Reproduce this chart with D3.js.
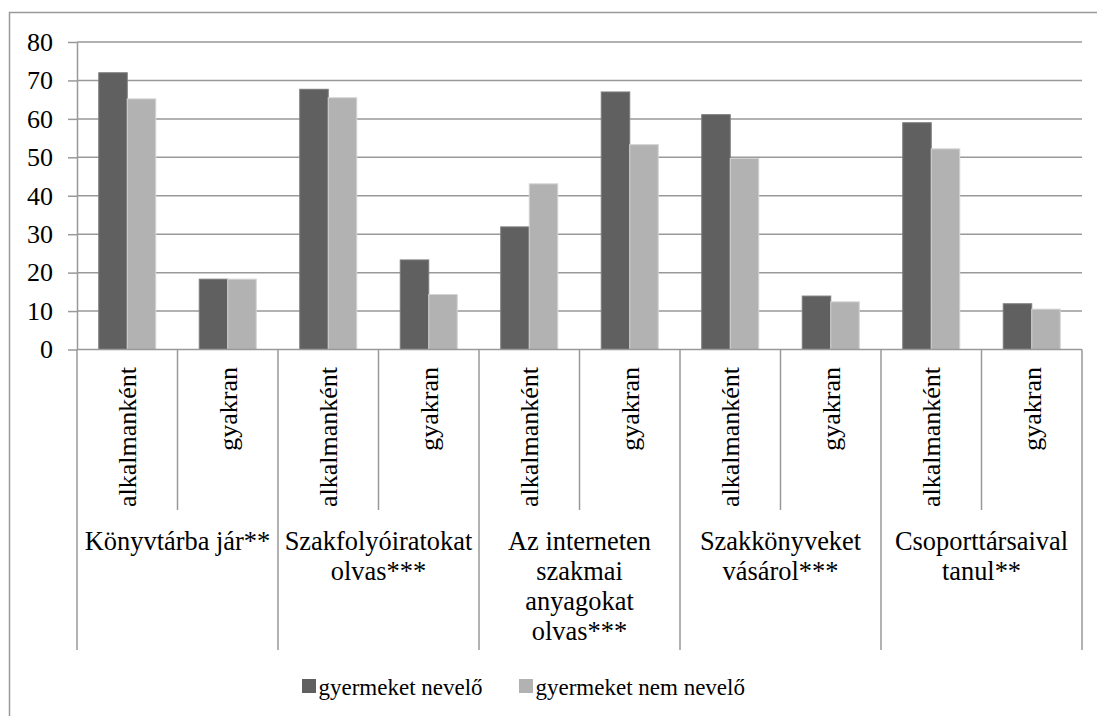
<!DOCTYPE html>
<html>
<head>
<meta charset="utf-8">
<script src="https://cdn.jsdelivr.net/npm/d3@7"></script>
</head>
<body style="margin:0">
<svg id="chart" width="1097" height="716" style="display:block"></svg>
<script>
// Activity groups, each split into "occasionally" / "often"
const groups = [
  ["Könyvtárba jár**"],
  ["Szakfolyóiratokat", "olvas***"],
  ["Az interneten", "szakmai", "anyagokat", "olvas***"],
  ["Szakkönyveket", "vásárol***"],
  ["Csoporttársaival", "tanul**"]
];
const frequencies = ["alkalmanként", "gyakran"];
const seriesNames = ["gyermeket nevelő", "gyermeket nem nevelő"];

// Percentages, one value per (group, frequency) pair in order
const parenting    = [72.0, 18.3, 67.7, 23.3, 31.9, 67.0, 61.1, 13.9, 59.0, 11.9];
const nonParenting = [65.2, 18.3, 65.5, 14.3, 43.1, 53.3, 49.7, 12.4, 52.2, 10.5];

const yTicks = [0, 10, 20, 30, 40, 50, 60, 70, 80];

const colors = ["#606060", "#b2b2b2"];
const strokes = ["#7c7c7c", "#d4d4d4"];
const FONT = '"Liberation Serif", monospace';

const svg = d3.select("#chart");
const plot = { left: 77, right: 1082, top: 42, bottom: 349.5 };

// Rows: one per sub-category slot
const rows = [];
groups.forEach((g, gi) => {
  frequencies.forEach((f, fi) => {
    const i = gi * frequencies.length + fi;
    rows.push({ idx: i, group: gi, freq: f, values: [parenting[i], nonParenting[i]] });
  });
});

const x = d3.scaleBand()
  .domain(rows.map(d => d.idx))
  .range([plot.left, plot.right])
  .paddingInner(0).paddingOuter(0);

const xInner = d3.scaleBand()
  .domain(d3.range(seriesNames.length))
  .range([0, x.bandwidth()])
  .paddingOuter(0.763)
  .paddingInner(0);

const y = d3.scaleLinear().domain([0, 80]).range([plot.bottom, plot.top]);

// Outer frame (top and left edges)
svg.append("path")
  .attr("d", `M9.5,716 V12.5 H1097`)
  .attr("fill", "none")
  .attr("stroke", "#9a9a9a")
  .attr("stroke-width", 1.5);

// Horizontal gridlines
svg.append("g")
  .selectAll("line")
  .data(yTicks.filter(t => t > 0))
  .join("line")
  .attr("x1", plot.left).attr("x2", plot.right)
  .attr("y1", d => y(d)).attr("y2", d => y(d))
  .attr("stroke", "#999")
  .attr("stroke-width", 1.5);

// Y axis
const yAxis = d3.axisLeft(y).tickValues(yTicks).tickSize(9).tickSizeOuter(0).tickPadding(15).tickFormat(d3.format("d"));
const yg = svg.append("g").attr("transform", `translate(${plot.left},0)`).call(yAxis);
yg.attr("font-family", null).attr("font-size", null);
yg.select(".domain").attr("stroke", "#999").attr("stroke-width", 1.5);
yg.selectAll(".tick line").attr("stroke", "#999").attr("stroke-width", 1.5);
yg.selectAll(".tick text")
  .style("font-family", FONT)
  .attr("font-size", 26)
  .attr("fill", "#000");

// Bars
const slot = svg.append("g")
  .selectAll("g")
  .data(rows)
  .join("g")
  .attr("transform", d => `translate(${x(d.idx)},0)`);

slot.selectAll("rect")
  .data(d => d.values.map((v, s) => ({ v, s })))
  .join("rect")
  .attr("x", d => xInner(d.s))
  .attr("width", xInner.bandwidth())
  .attr("y", d => y(d.v))
  .attr("height", d => y(0) - y(d.v))
  .attr("fill", d => colors[d.s])
  .attr("stroke", d => strokes[d.s])
  .attr("stroke-width", 1);

// Category axis baseline
svg.append("line")
  .attr("x1", plot.left).attr("x2", plot.right)
  .attr("y1", plot.bottom).attr("y2", plot.bottom)
  .attr("stroke", "#999").attr("stroke-width", 1.5);

// Separators: short ones between frequencies, long ones between groups
const sepBottomInner = 510;
const sepBottomOuter = 650;
const boundaries = d3.range(rows.length + 1);
svg.append("g")
  .selectAll("line")
  .data(boundaries)
  .join("line")
  .attr("x1", i => i < rows.length ? x(i) : plot.right)
  .attr("x2", i => i < rows.length ? x(i) : plot.right)
  .attr("y1", plot.bottom)
  .attr("y2", i => i % frequencies.length === 0 ? sepBottomOuter : sepBottomInner)
  .attr("stroke", "#999")
  .attr("stroke-width", 1.5);

// Frequency labels (rotated)
svg.append("g")
  .selectAll("text")
  .data(rows)
  .join("text")
  .attr("transform", d => `translate(${x(d.idx) + x.bandwidth() / 2 + 9},367) rotate(-90)`)
  .attr("text-anchor", "end")
  .style("font-family", FONT)
  .attr("font-size", 26)
  .text(d => d.freq);

// Group labels (multi-line, centered)
const groupWidth = x.bandwidth() * frequencies.length;
groups.forEach((lines, gi) => {
  const cx = x(gi * frequencies.length) + groupWidth / 2;
  lines.forEach((line, li) => {
    svg.append("text")
      .attr("text-anchor", "middle")
      .style("font-family", FONT)
      .attr("font-size", 26.4)
      .attr("x", cx)
      .attr("y", 550 + li * 30)
      .text(line);
  });
});

// Legend
const legendItems = [
  { name: seriesNames[0], color: colors[0], x: 302 },
  { name: seriesNames[1], color: colors[1], x: 519 }
];
const lg = svg.append("g");
legendItems.forEach(item => {
  lg.append("rect")
    .attr("x", item.x).attr("y", 679)
    .attr("width", 14).attr("height", 14)
    .attr("fill", item.color);
  lg.append("text")
    .attr("x", item.x + 16.5).attr("y", 695)
    .style("font-family", FONT)
    .attr("font-size", 23)
    .text(item.name);
});
</script>
</body>
</html>
